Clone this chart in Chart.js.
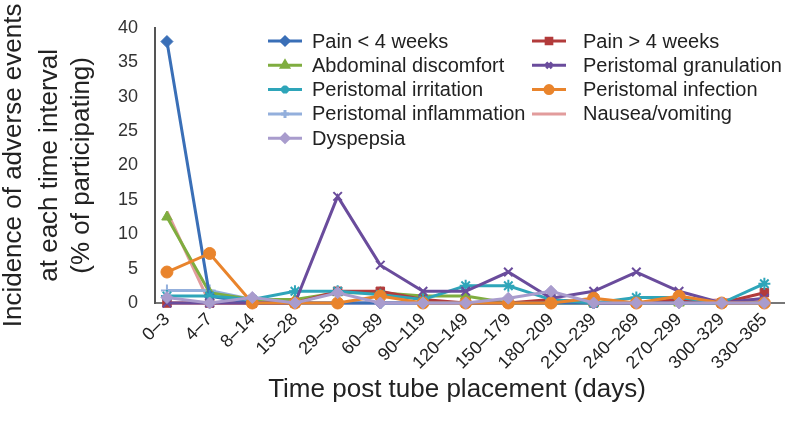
<!DOCTYPE html>
<html>
<head>
<meta charset="utf-8">
<script src="https://cdn.jsdelivr.net/npm/chart.js@4/dist/chart.umd.min.js"></script>
<style>
  html, body { margin: 0; padding: 0; background: #fff; }
  #wrap { width: 792px; height: 430px; }
</style>
</head>
<body>
<div id="wrap"><canvas id="grafico" width="792" height="430"></canvas></div>
<script>
// categorias do eixo x
const intervals = ['0–3', '4–7', '8–14', '15–28', '29–59', '60–89', '90–119', '120–149', '150–179', '180–209', '210–239', '240–269', '270–299', '300–329', '330–365'];
const yTicks = [0, 5, 10, 15, 20, 25, 30, 35, 40];

// series (% of participating)
const painUnder4 = [38, 1, 0, 0, 0, 0, 0, 0, 0, 0, 0, 0, 0, 0, 0];
const painOver4 = [0, 0, 0, 0, 1.7, 1.7, 0.5, 0, 0, 0.5, 0, 0, 0.5, 0, 1.5];
const abdominal = [12.5, 1.5, 0.5, 0.5, 1.5, 1.5, 1, 1, 0, 0, 0, 0, 0, 0, 0];
const granulation = [0, 0, 0, 0, 15.5, 5.5, 1.7, 1.7, 4.5, 0.7, 1.7, 4.5, 1.7, 0, 0.7];
const irritation = [1, 1, 0.5, 1.7, 1.7, 1.2, 0.5, 2.5, 2.5, 0.5, 0, 0.8, 0.8, 0, 2.8];
const infection = [4.5, 7.2, 0, 0, 0, 1, 0, 0, 0, 0, 0.7, 0, 1, 0, 0];
const inflammation = [1.8, 1.8, 0.5, 0, 0, 0, 0, 0, 0, 0, 0, 0, 0, 0, 0];
const nausea = [13.3, 0, 0, 0, 0, 0, 0, 0, 0, 0, 0, 0, 0, 0.5, 0.5];
const dyspepsia = [0.8, 0, 0.8, 0, 1.5, 0, 0, 0, 0.7, 1.7, 0, 0, 0, 0, 0];

const FONT = '"Liberation Sans", Arial, Helvetica, sans-serif';

function serie(label, values, color, style, order) {
  return {
    label: label,
    data: values.map((v, i) => ({ x: i, y: v })),
    borderColor: color,
    backgroundColor: color,
    pointBackgroundColor: color,
    pointBorderColor: color,
    pointStyle: style,
    pointRadius: style ? 6 : 0,
    pointBorderWidth: (style === 'star' || style === 'cross' || style === 'crossRot') ? 2 : 1,
    borderWidth: 3,
    tension: 0,
    clip: false,
    order: order
  };
}

const datasets = [
  serie('Pain < 4 weeks', painUnder4, '#3a6fb7', 'rectRot', 5),
  serie('Pain > 4 weeks', painOver4, '#b23b3b', 'rect', 6),
  serie('Abdominal discomfort', abdominal, '#7fad3f', 'triangle', 7),
  serie('Peristomal granulation', granulation, '#6a4c9c', 'crossRot', 3),
  serie('Peristomal irritation', irritation, '#2ea5b9', 'star', 4),
  serie('Peristomal infection', infection, '#e9842c', 'circle', 2),
  serie('Peristomal inflammation', inflammation, '#93afdc', 'cross', 8),
  serie('Nausea/vomiting', nausea, '#e29c9c', false, 9),
  serie('Dyspepsia', dyspepsia, '#a99ccd', 'rectRot', 1)
];

// legenda e titulos desenhados a mao
const extras = {
  id: 'extras',
  afterDraw(chart) {
    const c = chart.ctx;
    c.save();
    c.fillStyle = '#222';
    c.textBaseline = 'middle';
    c.textAlign = 'left';
    c.font = '20px ' + FONT;
    const cols = [{ x: 268, text: 312 }, { x: 532, text: 583 }];
    datasets.forEach((ds, i) => {
      const col = cols[i % 2];
      const y = 41 + Math.floor(i / 2) * 24.3;
      c.strokeStyle = ds.borderColor;
      c.lineWidth = 3;
      c.beginPath();
      c.moveTo(col.x, y);
      c.lineTo(col.x + 34, y);
      c.stroke();
      if (ds.pointStyle && Chart.helpers && Chart.helpers.drawPoint) {
        Chart.helpers.drawPoint(c, {
          pointStyle: ds.pointStyle, radius: 4, rotation: 0, borderWidth: 1.5
        }, col.x + 17, y);
        c.fillStyle = ds.borderColor;
        c.fill();
      }
      c.fillStyle = '#222';
      c.fillText(ds.label, col.text, y + 1);
    });

    // titulo eixo x
    c.textAlign = 'center';
    c.font = '26px ' + FONT;
    c.fillText('Time post tube placement (days)', 457, 390);

    // titulo eixo y
    const lines = [
      { t: 'Incidence of adverse events', x: 14 },
      { t: 'at each time interval', x: 50 },
      { t: '(% of participating)', x: 82 }
    ];
    const mid = (chart.chartArea.top + chart.chartArea.bottom) / 2;
    lines.forEach(l => {
      c.save();
      c.translate(l.x, mid);
      c.rotate(-Math.PI / 2);
      c.fillText(l.t, 0, 0);
      c.restore();
    });
    c.restore();
  }
};

const ctx = document.getElementById('grafico').getContext('2d');
new Chart(ctx, {
  type: 'line',
  data: { datasets: datasets },
  options: {
    responsive: false,
    animation: false,
    layout: { padding: { top: 22, right: 2, left: 0, bottom: 0 } },
    plugins: { legend: { display: false }, tooltip: { enabled: false } },
    scales: {
      x: {
        type: 'linear',
        min: -0.28,
        max: 14.46,
        afterBuildTicks: scale => { scale.ticks = intervals.map((_, i) => ({ value: i })); },
        afterFit: scale => { scale.height = 127; },
        grid: { display: false, drawTicks: false },
        border: { display: true, color: '#777', width: 2 },
        ticks: {
          callback: v => intervals[v],
          minRotation: 45,
          maxRotation: 45,
          autoSkip: false,
          padding: 6,
          color: '#222',
          font: { family: FONT, size: 18 }
        }
      },
      y: {
        min: 0,
        max: 40,
        afterBuildTicks: scale => { scale.ticks = yTicks.map(v => ({ value: v })); },
        afterFit: scale => { scale.width = 155; },
        grid: { display: false, drawTicks: false },
        border: { display: true, color: '#555', width: 2 },
        ticks: {
          padding: 17,
          color: '#333',
          font: { family: FONT, size: 18 }
        }
      }
    }
  },
  plugins: [extras]
});
</script>
</body>
</html>
